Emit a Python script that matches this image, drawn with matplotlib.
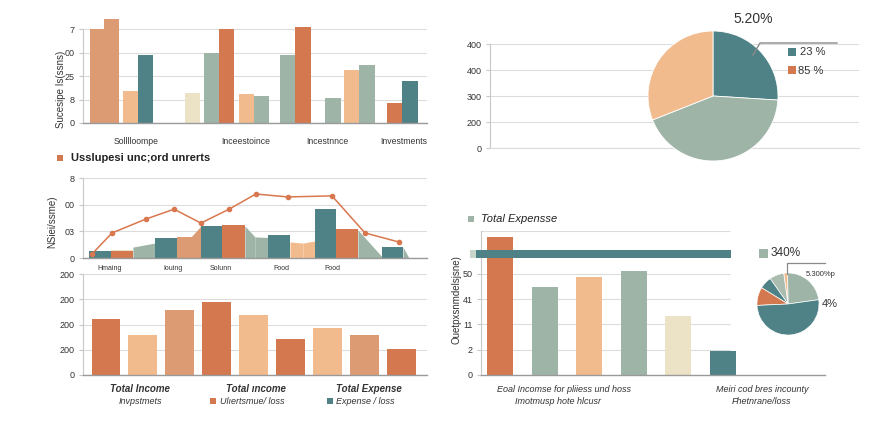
import matplotlib
matplotlib.use("Agg")
import matplotlib.pyplot as plt
from matplotlib.patches import Rectangle
import numpy as np

plt.rcParams['font.family'] = ['Liberation Sans', 'DejaVu Sans']

W, H = 894, 426

# colours
ORANGE = '#d4784f'
SANDY = '#dd9b73'
PEACH = '#f2bb8e'
TEAL = '#4f8286'
SAGE = '#9db4a6'
CREAM = '#ece2c6'
GRID = '#dcdcdc'
TXT = '#333333'

# ---------------- data ----------------
# panel 1 (top-left grouped bars)
p1_pos = [0.46, 1.38, 2.63, 3.62, 6.71, 7.96, 8.95, 10.26, 11.25, 12.96, 13.95, 15.92, 17.17, 18.16, 20.0, 20.99]
p1_vals = [4.0, 4.43, 1.36, 2.89, 1.28, 2.98, 4.0, 1.23, 1.15, 2.89, 4.08, 1.06, 2.25, 2.47, 0.85, 1.79]
p1_cols = [SANDY, SANDY, PEACH, TEAL, CREAM, SAGE, ORANGE, PEACH, SAGE, SAGE, ORANGE, SAGE, PEACH, SAGE, ORANGE, TEAL]
p1_ticks = [0, 1, 2, 3, 4]
p1_ticklabels = ['0', '8', '25', '00', '7']
p1_groups = ['Solllloompe', 'Inceestoince', 'Incestnnce', 'Investments']
p1_group_pos = [3.49, 10.72, 16.05, 21.1]

# panel 2 (middle-left bars + area + line)
p2_bar_pos = [0.27, 1.27, 3.27, 4.27, 5.36, 6.32, 8.41, 10.55, 11.5, 13.59]
p2_bar_w = [1.0, 1.0, 1.0, 1.0, 0.96, 1.05, 1.0, 0.96, 1.0, 0.96]
p2_bar_vals = [0.26, 0.26, 0.75, 0.78, 1.2, 1.23, 0.86, 1.83, 1.1, 0.41]
p2_bar_cols = [TEAL, ORANGE, TEAL, SANDY, TEAL, ORANGE, TEAL, TEAL, ORANGE, TEAL]
p2_area_x0 = [1.27, 2.27, 4.9, 7.36, 7.82, 9.41, 10.0, 12.5, 14.55]
p2_area_x1 = [2.27, 3.27, 5.36, 7.82, 8.41, 10.0, 10.55, 13.59, 14.82]
p2_area_y0 = [0.3, 0.41, 0.78, 1.2, 0.79, 0.6, 0.56, 1.05, 0.41]
p2_area_y1 = [0.3, 0.56, 1.2, 0.79, 0.77, 0.56, 0.64, 0.05, 0.0]
p2_area_cols = [CREAM, SAGE, SANDY, SAGE, SAGE, PEACH, PEACH, SAGE, SAGE]
p2_line_x = [0.41, 1.32, 2.86, 4.14, 5.36, 6.64, 7.86, 9.32, 11.32, 12.82, 14.36]
p2_line_y = [0.15, 0.94, 1.46, 1.83, 1.31, 1.83, 2.4, 2.29, 2.33, 0.94, 0.6]
p2_ticks = [0, 1, 2, 3]
p2_ticklabels = ['0', '03', '00', '8']
p2_xlabels = ['Hmaing', 'Iouing', 'Solunn', 'Food', 'Food']
p2_xlabel_pos = [1.23, 4.09, 6.27, 9.0, 11.36]

# panel 3 (bottom-left bars)
p3_vals = [2.22, 1.59, 2.58, 2.9, 2.38, 1.43, 1.87, 1.59, 1.03]
p3_cols = [ORANGE, PEACH, SANDY, ORANGE, PEACH, ORANGE, PEACH, SANDY, ORANGE]
p3_ticks = [0, 1, 2, 3, 4]
p3_ticklabels = ['0', '200', '200', '200', '200']

# panel 4 (top-right pie on grid)
p4_ticks = [0, 1, 2, 3, 4]
p4_ticklabels = ['0', '200', '300', '400', '400']
pie1_vals = [26, 43, 31]
pie1_cols = [TEAL, SAGE, PEACH]

# panel 5 (bottom-right bars + small pie)
p5_vals = [5.48, 3.49, 3.89, 4.13, 2.34, 0.95]
p5_cols = [ORANGE, SAGE, PEACH, SAGE, CREAM, TEAL]
p5_ticks = [0, 1, 2, 3, 4]
p5_ticklabels = ['0', '2', '11', '41', '50']
p5_hbar = (4.63, 0.32, -0.54, 5.19)  # y, height, x start, x end
pie2_vals = [23, 2, 7.5, 6.5, 9.5, 51.5]
pie2_cols = [SAGE, PEACH, '#a9bcae', TEAL, ORANGE, TEAL]

# ---------------- helpers ----------------
fig = plt.figure(figsize=(W / 100, H / 100), dpi=100)
fig.patch.set_facecolor('white')


def px_axes(l, t, r, b):
    return fig.add_axes([l / W, 1 - b / H, (r - l) / W, (b - t) / H])


def ftext(x, y, s, **kw):
    kw.setdefault('color', TXT)
    kw.setdefault('va', 'center')
    fig.text(x / W, 1 - y / H, s, **kw)


def fsquare(cx, cy, size, color):
    fig.patches.append(Rectangle(((cx - size / 2) / W, 1 - (cy + size / 2) / H), size / W, size / H,
                                 transform=fig.transFigure, facecolor=color, edgecolor='none'))


def fline(xs, ys, color='#8c8c8c', lw=1.0):
    fig.add_artist(plt.Line2D([x / W for x in xs], [1 - y / H for y in ys], color=color, lw=lw,
                              transform=fig.transFigure))


def style(ax, fs=6.5):
    for s in ['top', 'right']:
        ax.spines[s].set_visible(False)
    ax.spines['left'].set_color('#c8c8c8')
    ax.spines['left'].set_linewidth(0.8)
    ax.spines['bottom'].set_color('#9a9a9a')
    ax.spines['bottom'].set_linewidth(1.0)
    ax.tick_params(axis='y', labelsize=fs, colors=TXT, length=3, width=0.8, pad=3)
    ax.tick_params(axis='y', color='#c8c8c8')
    ax.tick_params(axis='x', length=0, labelsize=6, colors=TXT)
    ax.set_axisbelow(True)
    ax.yaxis.grid(True, color=GRID, lw=0.8)
    ax.set_facecolor('none')


# ---------------- panel 1 ----------------
ax1 = px_axes(83, 12.6, 427, 123)
style(ax1)
ax1.bar(p1_pos, p1_vals, width=1.0, align='edge', color=p1_cols, zorder=2)
ax1.set_xlim(0, 22.6)
ax1.set_ylim(0, 4.7)
ax1.set_yticks(p1_ticks)
ax1.set_yticklabels(p1_ticklabels)
ax1.set_xticks(p1_group_pos)
ax1.set_xticklabels(p1_groups, fontsize=6.2)
ax1.tick_params(axis='x', pad=10)
ax1.spines['left'].set_bounds(0, 4)
ftext(61, 89, 'Sucesipe Is(ssns)', rotation=90, ha='center', fontsize=7)

# ---------------- panel 2 ----------------
ax2 = px_axes(83, 178, 427, 258)
style(ax2)
for x0, x1, y0, y1, c in zip(p2_area_x0, p2_area_x1, p2_area_y0, p2_area_y1, p2_area_cols):
    ax2.fill_between([x0, x1], [0, 0], [y0, y1], color=c, lw=0, zorder=1.5)
ax2.bar(p2_bar_pos, p2_bar_vals, width=p2_bar_w, align='edge', color=p2_bar_cols, zorder=2)
ax2.plot(p2_line_x, p2_line_y, color='#d9774e', lw=1.1, marker='o', ms=3, zorder=3)
ax2.set_xlim(0, 15.64)
ax2.set_ylim(0, 3)
ax2.set_yticks(p2_ticks)
ax2.set_yticklabels(p2_ticklabels)
ax2.set_xticks(p2_xlabel_pos)
ax2.set_xticklabels(p2_xlabels, fontsize=5)
ax2.tick_params(axis='x', pad=5)
fsquare(60, 158, 6.5, ORANGE)
ftext(71, 158, 'Usslupesi unc;ord unrerts', ha='left', fontsize=8, fontweight='bold', color='#222222')
ftext(52, 222, 'NSiei/ssme)', rotation=90, ha='center', fontsize=7)

# ---------------- panel 3 ----------------
ax3 = px_axes(83, 274, 427, 375)
style(ax3)
ax3.bar(np.arange(len(p3_vals)), p3_vals, width=0.76, color=p3_cols, zorder=2)
ax3.set_xlim(-0.61, 8.69)
ax3.set_ylim(0, 4)
ax3.set_yticks(p3_ticks)
ax3.set_yticklabels(p3_ticklabels)
ax3.set_xticks([])
ftext(140, 389, 'Total Income', ha='center', fontsize=7, fontweight='bold', fontstyle='italic')
ftext(256, 389, 'Total ıncome', ha='center', fontsize=7, fontweight='bold', fontstyle='italic')
ftext(369, 389, 'Total Expense', ha='center', fontsize=7, fontweight='bold', fontstyle='italic')
ftext(140, 401, 'Invpstmets', ha='center', fontsize=6.5, fontstyle='italic')
fsquare(213, 401, 6, ORANGE)
ftext(220, 401, 'Ulıertsmue/ loss', ha='left', fontsize=6.5, fontstyle='italic')
fsquare(330, 401, 6, TEAL)
ftext(336, 401, 'Expense / loss', ha='left', fontsize=6.5, fontstyle='italic')

# ---------------- panel 4 ----------------
ax4 = px_axes(490, 44, 859, 148)
style(ax4)
ax4.spines['bottom'].set_color(GRID)
ax4.spines['bottom'].set_linewidth(0.8)
ax4.set_ylim(0, 4)
ax4.set_xlim(0, 1)
ax4.set_yticks(p4_ticks)
ax4.set_yticklabels(p4_ticklabels)
ax4.set_xticks([])

pax = px_axes(713 - 65, 96 - 65, 713 + 65, 96 + 65)
pax.pie(pie1_vals, colors=pie1_cols, startangle=90, counterclock=False, radius=1.0,
        wedgeprops=dict(linewidth=0.6, edgecolor='white'))
pax.set_xlim(-1, 1)
pax.set_ylim(-1, 1)
pax.set_aspect('equal')
pax.axis('off')
ftext(753, 19, '5.20%', ha='center', fontsize=10)
fline([753, 760, 837], [55, 43, 43], color='#8a8a8a', lw=1.0)
fsquare(792, 52, 8.5, TEAL)
ftext(800, 52, '23 %', ha='left', fontsize=8)
fsquare(792, 70, 8.5, ORANGE)
ftext(798, 71, '85 %', ha='left', fontsize=8)

# ---------------- panel 5 ----------------
ax5 = px_axes(481, 231, 825, 375)
style(ax5)
ax5.yaxis.grid(False)
ax5.set_xlim(-0.43, 7.3)
ax5.set_ylim(0, 5.7)
for yv in list(p5_ticks[1:]) + [5.7]:
    ax5.hlines(yv, -0.43, 5.17, color=GRID, lw=0.8, zorder=0)
ax5.bar(np.arange(len(p5_vals)), p5_vals, width=0.58, color=p5_cols, zorder=2)
hy, hh, hx0, hx1 = p5_hbar
ax5.add_patch(Rectangle((hx0, hy), hx1 - hx0, hh, facecolor=TEAL, edgecolor='none', zorder=3, clip_on=False))
ax5.add_patch(Rectangle((hx0 - 0.13, hy), 0.13, hh, facecolor='#c9d6cc', edgecolor='none', zorder=3, clip_on=False))
ax5.set_yticks(p5_ticks)
ax5.set_yticklabels(p5_ticklabels)
ax5.set_xticks([])
fsquare(471, 219, 6, SAGE)
ftext(481, 219, 'Total Expensse', ha='left', fontsize=8, fontstyle='italic', color='#222222')
ftext(457, 300, 'Ouetpxsnmdelsjsne)', rotation=90, ha='center', fontsize=7)
ftext(564, 389, 'Eoal Incomse for pliiess und hoss', ha='center', fontsize=6.5, fontstyle='italic')
ftext(558, 401, 'Imotmusp hote hlcusr', ha='center', fontsize=6.5, fontstyle='italic')
ftext(762, 389, 'Meiri cod bres incounty', ha='center', fontsize=6.5, fontstyle='italic')
ftext(761, 401, 'Fhetnrane/loss', ha='center', fontsize=6.5, fontstyle='italic')

pax2 = px_axes(788 - 32, 304 - 32, 788 + 32, 304 + 32)
pax2.pie(pie2_vals, colors=pie2_cols, startangle=8, counterclock=True, radius=0.97,
         wedgeprops=dict(linewidth=0.5, edgecolor='white'))
pax2.set_xlim(-1, 1)
pax2.set_ylim(-1, 1)
pax2.set_aspect('equal')
pax2.axis('off')
fsquare(763, 253, 9, SAGE)
ftext(771, 253, '340%', ha='left', fontsize=8.5)
fline([787, 787, 825], [274, 263, 263], color='#8a8a8a', lw=0.9)
ftext(821, 274, '5.300%p', ha='center', fontsize=5.5)
ftext(830, 304, '4%', ha='center', fontsize=8)

fig.savefig('out.png', dpi=100, facecolor='white')
